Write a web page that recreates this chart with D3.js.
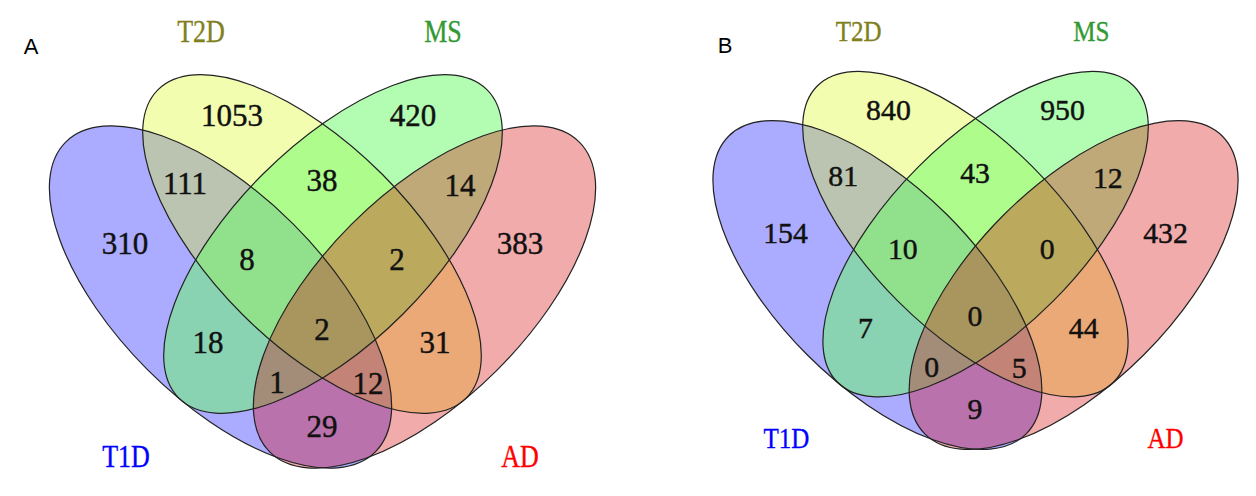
<!DOCTYPE html>
<html>
<head>
<meta charset="utf-8">
<script src="https://cdn.jsdelivr.net/npm/d3@7"></script>
<style>
  html, body { margin: 0; padding: 0; background: #ffffff; }
  svg { display: block; }
</style>
</head>
<body>
<svg id="chart" width="1256" height="496"></svg>
<script>
// ---- data ----
const sets = ["T1D", "T2D", "MS", "AD"];
const regions = [
  "T1D", "T2D", "MS", "AD",
  "T1D&T2D", "T2D&MS", "MS&AD", "T1D&AD", "T1D&MS", "T2D&AD",
  "T1D&T2D&MS", "T2D&MS&AD", "T1D&MS&AD", "T1D&T2D&AD",
  "T1D&T2D&MS&AD"
];
const countsA = [310, 1053, 420, 383, 111, 38, 14, 29, 18, 31, 8, 2, 1, 12, 2];
const countsB = [154, 840, 950, 432, 81, 43, 12, 9, 7, 44, 10, 0, 0, 5, 0];
const panelTags = ["A", "B"];

// ---- styles ----
const fillColors   = ["#0000ff", "#dcf910", "#67fb67", "#d80000"];
const fillOpacity  = [0.33, 0.33, 0.5, 0.33];
const labelColors  = ["#0000ff", "#808020", "#339933", "#ff0000"];

// ---- layout (drawing units of one diagram) ----
const ellipseShape = {
  T1D: { cx: 220.5, cy: 297, rx: 219, ry: 103, rot: 45 },
  T2D: { cx: 312,   cy: 244, rx: 218, ry: 99,  rot: 45 },
  MS:  { cx: 333,   cy: 244, rx: 218, ry: 99,  rot: -45 },
  AD:  { cx: 424.5, cy: 297, rx: 219, ry: 103, rot: -45 }
};
const regionAnchor = {
  "T1D": [125, 243], "T2D": [232, 115], "MS": [413, 115], "AD": [520, 243],
  "T1D&T2D": [185, 183], "T2D&MS": [322, 180], "MS&AD": [460, 185],
  "T1D&AD": [322, 426], "T1D&MS": [208, 342], "T2D&AD": [435, 342],
  "T1D&T2D&MS": [247, 259], "T2D&MS&AD": [397, 259],
  "T1D&MS&AD": [277, 382], "T1D&T2D&AD": [368, 383],
  "T1D&T2D&MS&AD": [322, 329]
};
const setLabelAnchor = { T1D: [126, 457], T2D: [201, 32], MS: [443, 32], AD: [520, 457] };

const panels = [
  { tag: panelTags[0], counts: countsA, tagPos: [31, 46],
    xRange: [0, 645], yRange: [0, 496], k: 1 },
  { tag: panelTags[1], counts: countsB, tagPos: [725, 45],
    xRange: [975.5 - 0.962 * 322.5, 975.5 + 0.962 * 322.5], yRange: [0, 476], k: 0.961 }
];

const svg = d3.select("#chart");

panels.forEach(p => {
  const sx = d3.scaleLinear().domain([0, 645]).range(p.xRange);
  const sy = d3.scaleLinear().domain([0, 496]).range(p.yRange);
  const g = svg.append("g");
  const place = s => `translate(${sx(ellipseShape[s].cx)},${sy(ellipseShape[s].cy)}) rotate(${ellipseShape[s].rot})`;

  // translucent set fills
  g.append("g").selectAll("ellipse")
    .data(sets)
    .join("ellipse")
    .attr("rx", s => ellipseShape[s].rx * p.k)
    .attr("ry", s => ellipseShape[s].ry * p.k)
    .attr("transform", place)
    .attr("fill", (s, i) => fillColors[i])
    .attr("fill-opacity", (s, i) => fillOpacity[i])
    .attr("stroke", "none");

  // outlines on top
  g.append("g").selectAll("ellipse")
    .data(sets)
    .join("ellipse")
    .attr("rx", s => ellipseShape[s].rx * p.k)
    .attr("ry", s => ellipseShape[s].ry * p.k)
    .attr("transform", place)
    .attr("fill", "none")
    .attr("stroke", "#222")
    .attr("stroke-width", 1.2);

  // region counts
  const numSize = 31 * p.k;
  g.append("g").selectAll("text")
    .data(regions.map((r, i) => ({ r, v: p.counts[i] })))
    .join("text")
    .attr("x", d => sx(regionAnchor[d.r][0]))
    .attr("y", d => sy(regionAnchor[d.r][1]) + numSize * 0.34)
    .attr("text-anchor", "middle")
    .attr("font-family", "'Liberation Serif', 'Times New Roman', serif")
    .attr("font-size", numSize)
    .attr("fill", "#111")
    .attr("stroke", "#111")
    .attr("stroke-width", 0.45)
    .text(d => d.v);

  // set names
  const labSize = 31 * p.k;
  g.append("g").selectAll("text")
    .data(sets)
    .join("text")
    .attr("transform", s => `translate(${sx(setLabelAnchor[s][0])},${sy(setLabelAnchor[s][1]) + labSize * 0.33}) scale(0.84,1)`)
    .attr("text-anchor", "middle")
    .attr("font-family", "'Liberation Serif', 'Times New Roman', serif")
    .attr("font-size", labSize)
    .attr("fill", (s, i) => labelColors[i])
    .attr("stroke", (s, i) => labelColors[i])
    .attr("stroke-width", 0.35)
    .text(s => s);

  // panel tag
  g.append("text")
    .attr("x", p.tagPos[0])
    .attr("y", p.tagPos[1] + 8)
    .attr("text-anchor", "middle")
    .attr("font-family", "'Liberation Sans', Arial, sans-serif")
    .attr("font-size", 22)
    .attr("fill", "#000")
    .text(p.tag);
});
</script>
</body>
</html>
